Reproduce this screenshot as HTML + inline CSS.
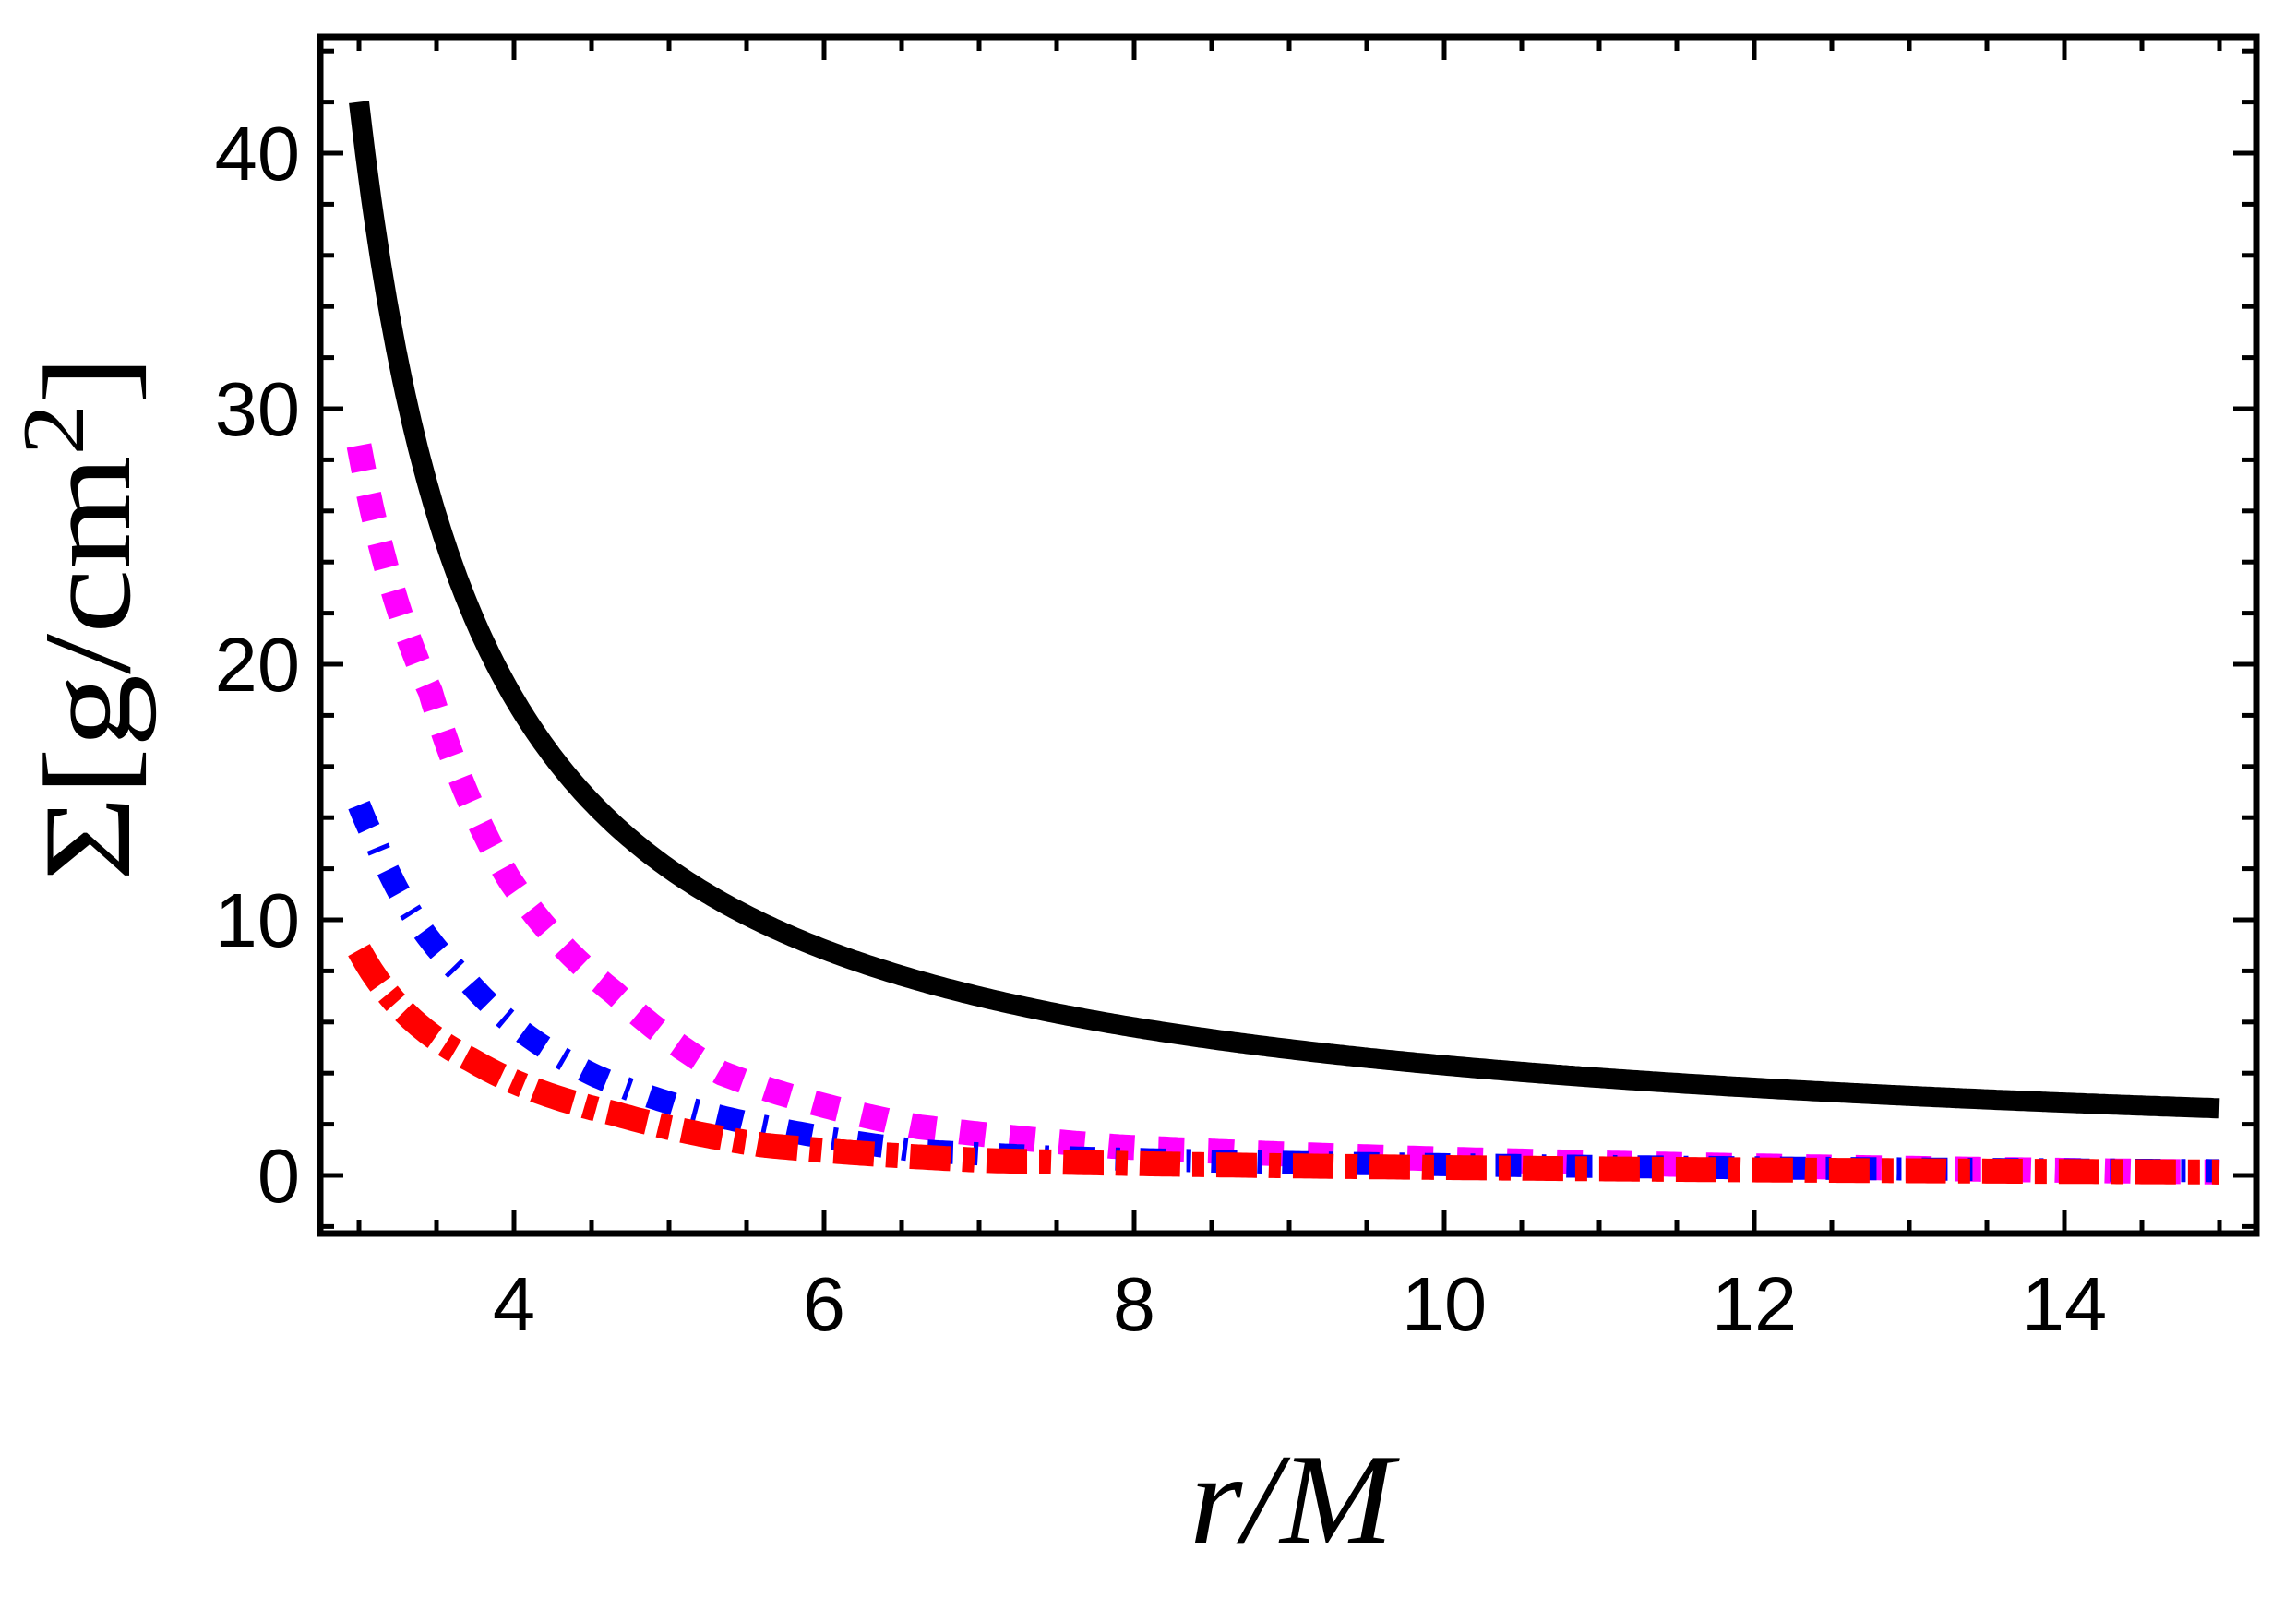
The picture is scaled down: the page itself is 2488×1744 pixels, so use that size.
<!DOCTYPE html>
<html><head><meta charset="utf-8"><style>html,body{margin:0;padding:0;background:#fff}svg{display:block}</style></head>
<body>
<svg id="s" xmlns="http://www.w3.org/2000/svg" width="2488" height="1744" viewBox="0 0 2488 1744">
<rect width="2488" height="1744" fill="#fff"/>
<g id="curves" fill="none" stroke-linecap="butt" stroke-linejoin="round"></g>
<g id="ticks" stroke="#000" stroke-width="5"></g>
<rect x="347" y="40" width="2098" height="1297" fill="none" stroke="#000" stroke-width="7"/>
<g font-family="Liberation Sans, sans-serif" font-size="83" fill="#000">
<text x="557" y="1442" text-anchor="middle">4</text>
<text x="893" y="1442" text-anchor="middle">6</text>
<text x="1229" y="1442" text-anchor="middle">8</text>
<text x="1565" y="1442" text-anchor="middle">10</text>
<text x="1901" y="1442" text-anchor="middle">12</text>
<text x="2237" y="1442" text-anchor="middle">14</text>
<text x="325" y="1303" text-anchor="end">0</text>
<text x="325" y="1026" text-anchor="end">10</text>
<text x="325" y="749" text-anchor="end">20</text>
<text x="325" y="472" text-anchor="end">30</text>
<text x="325" y="195" text-anchor="end">40</text>
</g>
<text x="1289" y="1672" font-family="Liberation Serif, serif" font-style="italic" font-size="140" textLength="221" lengthAdjust="spacingAndGlyphs">r/M</text>
<text transform="translate(140,955) rotate(-90)" font-family="Liberation Serif, serif" font-size="135" textLength="570" lengthAdjust="spacingAndGlyphs">Σ[g/cm<tspan dy="-50" font-size="95">2</tspan><tspan dy="50">]</tspan></text>
</svg>
<script>
(function(){
var NS="http://www.w3.org/2000/svg";
function X(r){return 557+(r-4)*168;}
function Y(v){return 1274-v*27.7;}
function blk(r){return 33.6/(r-2.2);}
function interp(pts,r){
 if(r<=pts[0][0])return pts[0][1];
 for(var i=1;i<pts.length;i++){if(r<=pts[i][0]){var a=pts[i-1],b=pts[i];var t=(r-a[0])/(b[0]-a[0]);return a[1]+t*(b[1]-a[1]);}}
 return pts[pts.length-1][1];
}
var mag=[[3,.68],[3.46,.71],[3.97,.61],[4.65,.52],[5.34,.374],[6.6,.25],[7.9,.19],[15,.05]];
var blu=[[3,.345],[3.11,.352],[3.7,.34],[4.52,.27],[5.54,.2],[6.6,.127],[7.6,.11],[15,.07]];
var red=[[3,.21],[3.73,.205],[4.66,.176],[5.61,.12],[7.05,.084],[15,.05]];
function path(f){var d="";for(var i=0;i<=600;i++){var r=3+12*i/600;d+=(i?"L":"M")+X(r).toFixed(1)+" "+Y(f(r)).toFixed(1);}return d;}
var g=document.getElementById("curves");
function add(d,col,w,dash){var p=document.createElementNS(NS,"path");p.setAttribute("d",d);p.setAttribute("stroke",col);p.setAttribute("stroke-width",w);if(dash)p.setAttribute("stroke-dasharray",dash);g.appendChild(p);}
add(path(blk),"#000",22,null);
add(path(function(r){return blk(r)*interp(mag,r);}),"#ff00ff",27,"28 26");
add(path(function(r){return blk(r)*interp(blu,r);}),"#0000ff",25,"28 22 5 22");
add(path(function(r){return blk(r)*interp(red,r);}),"#ff0000",27,"44 13 13 13");
var t=document.getElementById("ticks");
function ln(x1,y1,x2,y2){var l=document.createElementNS(NS,"line");l.setAttribute("x1",x1);l.setAttribute("y1",y1);l.setAttribute("x2",x2);l.setAttribute("y2",y2);t.appendChild(l);}
for(var k=0;k<=24;k++){var r=3+k*0.5;var x=X(r);var maj=(Math.abs(r%2)<1e-6);var L=maj?25:15;ln(x,1337,x,1337-L);ln(x,40,x,40+L);}
for(var v=-2;v<=44;v+=2){var y=Y(v);var maj=(v%10===0);var L=maj?25:15;ln(347,y,347+L,y);ln(2445,y,2445-L,y);}
})();
</script>
</body></html>
